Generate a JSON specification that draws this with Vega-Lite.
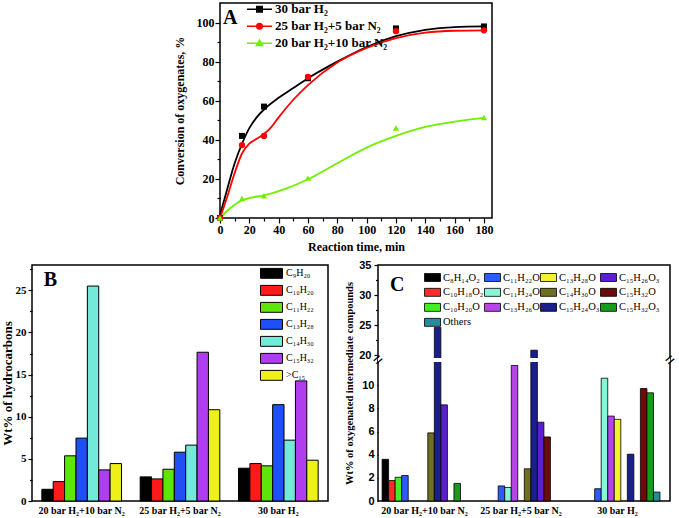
{
  "$schema": "https://vega.github.io/schema/vega-lite/v6.json",
  "padding": {"left": 0, "top": 0, "right": 0, "bottom": 0},
  "background": "white",
  "config": {
    "view": {"stroke": "black", "strokeWidth": 1.5},
    "axis": {"domain": false, "grid": false, "tickColor": "black", "tickWidth": 1.2, "labelColor": "black", "titleColor": "black", "labelFont": "Liberation Serif", "labelFontWeight": "bold", "titleFont": "Liberation Serif", "titleFontWeight": "bold", "labelFontSize": 12, "titleFontSize": 12, "labelOverlap": false, "labelFlush": false},
    "legend": {"labelColor": "black", "labelFont": "Liberation Serif"}
  },
  "spacing": 5,
  "resolve": {"scale": {"color": "independent", "shape": "independent", "xOffset": "independent"}, "legend": {"color": "independent", "shape": "independent"}},
  "vconcat": [
    {
      "spacing": 0,
      "resolve": {"scale": {"color": "independent", "shape": "independent", "xOffset": "independent"}, "legend": {"color": "independent", "shape": "independent"}},
      "hconcat": [
        {"width": 140, "height": 10, "data": {"values": []}, "mark": "point", "view": {"stroke": null}},
        {
          "width": 272,
          "height": 215,
          "layer": [
            {
              "data": {"values": [
                {"s": "30 bar H₂", "t": 0, "v": 1.5}, {"s": "30 bar H₂", "t": 5, "v": 15}, {"s": "30 bar H₂", "t": 10, "v": 28}, {"s": "30 bar H₂", "t": 15, "v": 38}, {"s": "30 bar H₂", "t": 20, "v": 46}, {"s": "30 bar H₂", "t": 25, "v": 51.5}, {"s": "30 bar H₂", "t": 30, "v": 55.5}, {"s": "30 bar H₂", "t": 40, "v": 61.5}, {"s": "30 bar H₂", "t": 50, "v": 66.5}, {"s": "30 bar H₂", "t": 60, "v": 71.5}, {"s": "30 bar H₂", "t": 80, "v": 80}, {"s": "30 bar H₂", "t": 100, "v": 87.5}, {"s": "30 bar H₂", "t": 120, "v": 93}, {"s": "30 bar H₂", "t": 140, "v": 96.3}, {"s": "30 bar H₂", "t": 160, "v": 97.7}, {"s": "30 bar H₂", "t": 180, "v": 98},
                {"s": "25 bar H₂+5 bar N₂", "t": 0, "v": 0}, {"s": "25 bar H₂+5 bar N₂", "t": 5, "v": 11}, {"s": "25 bar H₂+5 bar N₂", "t": 10, "v": 23}, {"s": "25 bar H₂+5 bar N₂", "t": 15, "v": 33}, {"s": "25 bar H₂+5 bar N₂", "t": 20, "v": 38}, {"s": "25 bar H₂+5 bar N₂", "t": 25, "v": 40.5}, {"s": "25 bar H₂+5 bar N₂", "t": 30, "v": 43}, {"s": "25 bar H₂+5 bar N₂", "t": 35, "v": 46.5}, {"s": "25 bar H₂+5 bar N₂", "t": 40, "v": 51.5}, {"s": "25 bar H₂+5 bar N₂", "t": 50, "v": 60.5}, {"s": "25 bar H₂+5 bar N₂", "t": 60, "v": 68}, {"s": "25 bar H₂+5 bar N₂", "t": 80, "v": 79.5}, {"s": "25 bar H₂+5 bar N₂", "t": 100, "v": 87}, {"s": "25 bar H₂+5 bar N₂", "t": 120, "v": 92}, {"s": "25 bar H₂+5 bar N₂", "t": 140, "v": 94.8}, {"s": "25 bar H₂+5 bar N₂", "t": 160, "v": 95.8}, {"s": "25 bar H₂+5 bar N₂", "t": 180, "v": 96},
                {"s": "20 bar H₂+10 bar N₂", "t": 0, "v": 0}, {"s": "20 bar H₂+10 bar N₂", "t": 5, "v": 3.7}, {"s": "20 bar H₂+10 bar N₂", "t": 10, "v": 6.8}, {"s": "20 bar H₂+10 bar N₂", "t": 15, "v": 9}, {"s": "20 bar H₂+10 bar N₂", "t": 20, "v": 10.2}, {"s": "20 bar H₂+10 bar N₂", "t": 30, "v": 11.6}, {"s": "20 bar H₂+10 bar N₂", "t": 45, "v": 15}, {"s": "20 bar H₂+10 bar N₂", "t": 60, "v": 19.8}, {"s": "20 bar H₂+10 bar N₂", "t": 80, "v": 28}, {"s": "20 bar H₂+10 bar N₂", "t": 100, "v": 36}, {"s": "20 bar H₂+10 bar N₂", "t": 120, "v": 42}, {"s": "20 bar H₂+10 bar N₂", "t": 140, "v": 46.6}, {"s": "20 bar H₂+10 bar N₂", "t": 160, "v": 49.3}, {"s": "20 bar H₂+10 bar N₂", "t": 180, "v": 51.2}
              ]},
              "mark": {"type": "line", "strokeWidth": 1.8, "interpolate": "monotone"},
              "encoding": {
                "x": {"field": "t", "type": "quantitative", "scale": {"domain": [0, 185.5], "nice": false, "zero": false},
                      "axis": {"title": "Reaction time, min", "values": [0,10,20,30,40,50,60,70,80,90,100,110,120,130,140,150,160,170,180], "tickCount": 100, "format": "d", "labelExpr": "datum.value % 20 === 0 ? datum.label : ''", "labelOverlap": false, "tickSize": {"condition": {"test": "datum.value % 20 === 0", "value": 5}, "value": 3}, "labelPadding": 1, "titlePadding": 6}},
                "y": {"field": "v", "type": "quantitative", "scale": {"domain": [0, 110], "nice": false},
                      "axis": {"title": "Conversion of oxygenates, %", "values": [0,10,20,30,40,50,60,70,80,90,100], "tickCount": 100, "format": "d", "labelExpr": "datum.value % 20 === 0 ? datum.label : ''", "labelOverlap": false, "tickSize": {"condition": {"test": "datum.value % 20 === 0", "value": 5}, "value": 3}, "labelPadding": 1, "titlePadding": 10}},
                "color": {"field": "s", "type": "nominal",
                          "scale": {"domain": ["30 bar H₂", "25 bar H₂+5 bar N₂", "20 bar H₂+10 bar N₂"], "range": ["#000000", "#ff0000", "#70f000"]},
                          "legend": {"title": null, "orient": "none", "legendX": 26, "legendY": -2, "symbolSize": 625, "clipHeight": 16.5, "rowPadding": 0, "labelOffset": 2, "labelFontSize": 13, "labelFontWeight": "bold", "symbolStrokeWidth": 1.5,
                                     "encode": {"symbols": {"update": {
                                       "shape": {"signal": "datum.index === 0 ? 'M-1,0H1M-0.22,-0.22H0.22V0.22H-0.22Z' : datum.index === 1 ? 'M-1,0H1M0.22,0A0.22,0.22 0 1,1 -0.22,0A0.22,0.22 0 1,1 0.22,0Z' : 'M-1,0H1M0,-0.25L0.25,0.18H-0.25Z'"},
                                       "fill": {"signal": "datum.index === 0 ? '#000000' : datum.index === 1 ? '#ff0000' : '#70f000'"},
                                       "stroke": {"signal": "datum.index === 0 ? '#000000' : datum.index === 1 ? '#ff0000' : '#70f000'"},
                                       "strokeWidth": {"value": 1.5},
                                       "opacity": {"value": 1}
                                     }}}}}
              }
            },
            {
              "data": {"values": [
                {"s": "30 bar H₂", "t": 0, "v": 0}, {"s": "30 bar H₂", "t": 15, "v": 42}, {"s": "30 bar H₂", "t": 30, "v": 57}, {"s": "30 bar H₂", "t": 60, "v": 71.5}, {"s": "30 bar H₂", "t": 120, "v": 97}, {"s": "30 bar H₂", "t": 180, "v": 98}
              ]},
              "mark": {"type": "point", "filled": true, "size": 36, "opacity": 1, "shape": "square", "color": "#000000"},
              "encoding": {"x": {"field": "t", "type": "quantitative"}, "y": {"field": "v", "type": "quantitative"}}
            },
            {
              "data": {"values": [
                {"s": "25 bar H₂+5 bar N₂", "t": 0, "v": 0}, {"s": "25 bar H₂+5 bar N₂", "t": 15, "v": 37.3}, {"s": "25 bar H₂+5 bar N₂", "t": 30, "v": 42}, {"s": "25 bar H₂+5 bar N₂", "t": 60, "v": 72.2}, {"s": "25 bar H₂+5 bar N₂", "t": 120, "v": 95.6}, {"s": "25 bar H₂+5 bar N₂", "t": 180, "v": 96}
              ]},
              "mark": {"type": "point", "filled": true, "size": 40, "opacity": 1, "shape": "circle", "color": "#ff0000"},
              "encoding": {"x": {"field": "t", "type": "quantitative"}, "y": {"field": "v", "type": "quantitative"}}
            },
            {
              "data": {"values": [
                {"s": "20 bar H₂+10 bar N₂", "t": 0, "v": 0}, {"s": "20 bar H₂+10 bar N₂", "t": 15, "v": 10}, {"s": "20 bar H₂+10 bar N₂", "t": 30, "v": 11.4}, {"s": "20 bar H₂+10 bar N₂", "t": 60, "v": 20.4}, {"s": "20 bar H₂+10 bar N₂", "t": 120, "v": 46.1}, {"s": "20 bar H₂+10 bar N₂", "t": 180, "v": 51.4}
              ]},
              "mark": {"type": "point", "filled": true, "size": 40, "opacity": 1, "shape": "triangle-up", "color": "#70f000"},
              "encoding": {"x": {"field": "t", "type": "quantitative"}, "y": {"field": "v", "type": "quantitative"}}
            },
            {
              "data": {"values": [{}]},
              "mark": {"type": "text", "text": "A", "fontSize": 20, "font": "Liberation Serif", "fontWeight": "bold", "color": "black", "align": "left", "baseline": "alphabetic"},
              "encoding": {"x": {"datum": 2, "type": "quantitative"}, "y": {"datum": 99.5, "type": "quantitative"}}
            }
          ]
        }
      ]
    },
    {
      "spacing": 15,
      "resolve": {"scale": {"color": "independent", "shape": "independent", "xOffset": "independent"}, "legend": {"color": "independent", "shape": "independent"}},
      "hconcat": [
        {
          "width": 296,
          "height": 236,
          "resolve": {"scale": {"x": "independent"}},
          "layer": [
            {
              "data": {"values": [
                {"g": "20 bar H₂+10 bar N₂", "c": "C₉H₂₀", "v": 1.39}, {"g": "20 bar H₂+10 bar N₂", "c": "C₁₀H₂₀", "v": 2.3}, {"g": "20 bar H₂+10 bar N₂", "c": "C₁₁H₂₂", "v": 5.36}, {"g": "20 bar H₂+10 bar N₂", "c": "C₁₃H₂₈", "v": 7.46}, {"g": "20 bar H₂+10 bar N₂", "c": "C₁₄H₃₀", "v": 25.5}, {"g": "20 bar H₂+10 bar N₂", "c": "C₁₅H₃₂", "v": 3.69}, {"g": "20 bar H₂+10 bar N₂", "c": ">C₁₅", "v": 4.44},
                {"g": "25 bar H₂+5 bar N₂", "c": "C₉H₂₀", "v": 2.86}, {"g": "25 bar H₂+5 bar N₂", "c": "C₁₀H₂₀", "v": 2.62}, {"g": "25 bar H₂+5 bar N₂", "c": "C₁₁H₂₂", "v": 3.77}, {"g": "25 bar H₂+5 bar N₂", "c": "C₁₃H₂₈", "v": 5.79}, {"g": "25 bar H₂+5 bar N₂", "c": "C₁₄H₃₀", "v": 6.63}, {"g": "25 bar H₂+5 bar N₂", "c": "C₁₅H₃₂", "v": 17.65}, {"g": "25 bar H₂+5 bar N₂", "c": ">C₁₅", "v": 10.83},
                {"g": "30 bar H₂", "c": "C₉H₂₀", "v": 3.89}, {"g": "30 bar H₂", "c": "C₁₀H₂₀", "v": 4.44}, {"g": "30 bar H₂", "c": "C₁₁H₂₂", "v": 4.17}, {"g": "30 bar H₂", "c": "C₁₃H₂₈", "v": 11.43}, {"g": "30 bar H₂", "c": "C₁₄H₃₀", "v": 7.22}, {"g": "30 bar H₂", "c": "C₁₅H₃₂", "v": 14.25}, {"g": "30 bar H₂", "c": ">C₁₅", "v": 4.84}
              ]},
              "mark": {"type": "bar", "stroke": "black", "strokeWidth": 1},
              "encoding": {
                "x": {"field": "g", "type": "nominal", "scale": {"domain": ["20 bar H₂+10 bar N₂", "25 bar H₂+5 bar N₂", "30 bar H₂"], "paddingInner": 0.19, "paddingOuter": 0.1},
                      "axis": {"title": null, "labelAngle": 0, "ticks": false, "labelPadding": 4, "labelFontSize": 10}},
                "xOffset": {"field": "c", "type": "nominal", "scale": {"domain": ["C₉H₂₀", "C₁₀H₂₀", "C₁₁H₂₂", "C₁₃H₂₈", "C₁₄H₃₀", "C₁₅H₃₂", ">C₁₅"], "paddingInner": 0, "paddingOuter": 0}},
                "y": {"field": "v", "type": "quantitative", "scale": {"domain": [0, 28], "nice": false},
                      "axis": {"title": "Wt% of hydrocarbons", "titleFontSize": 13, "labelFontSize": 11, "values": [0,2.5,5,7.5,10,12.5,15,17.5,20,22.5,25,27.5], "tickCount": 100, "format": "d", "labelExpr": "datum.value % 5 === 0 ? datum.label : ''", "labelOverlap": false, "tickSize": {"condition": {"test": "datum.value % 5 === 0", "value": 4}, "value": 2.5}, "labelPadding": 2, "titlePadding": 1}},
                "color": {"field": "c", "type": "nominal",
                          "scale": {"domain": ["C₉H₂₀", "C₁₀H₂₀", "C₁₁H₂₂", "C₁₃H₂₈", "C₁₄H₃₀", "C₁₅H₃₂", ">C₁₅"], "range": ["#000000", "#ff1a1a", "#5ee60c", "#1f4ff5", "#73ead9", "#b03ef0", "#eef01a"]},
                          "legend": {"title": null, "orient": "none", "legendX": 228, "legendY": 0, "symbolType": "M-1,-0.45H1V0.45H-1Z", "symbolSize": 484, "clipHeight": 16.7, "rowPadding": 0, "labelOffset": 3, "labelFontSize": 10, "symbolStrokeColor": "black", "symbolStrokeWidth": 1, "symbolOpacity": 1}}
              }
            },
            {
              "data": {"values": [{}]},
              "mark": {"type": "text", "text": "B", "fontSize": 20, "font": "Liberation Serif", "fontWeight": "bold", "color": "black", "align": "left", "baseline": "alphabetic"},
              "encoding": {"x": {"datum": 0.04, "type": "quantitative", "scale": {"domain": [0, 1], "nice": false}, "axis": null}, "y": {"datum": 25.5, "type": "quantitative"}}
            }
          ]
        },
        {
          "width": 292,
          "height": 236,
          "resolve": {"scale": {"x": "independent"}},
          "layer": [
            {
              "data": {"values": [
                {"g": "20 bar H₂+10 bar N₂", "c": "C₈H₁₄O₂", "v": 3.6}, {"g": "20 bar H₂+10 bar N₂", "c": "C₁₀H₁₈O₂", "v": 1.77}, {"g": "20 bar H₂+10 bar N₂", "c": "C₁₀H₂₀O", "v": 2.05}, {"g": "20 bar H₂+10 bar N₂", "c": "C₁₁H₂₂O", "v": 2.2}, {"g": "20 bar H₂+10 bar N₂", "c": "C₁₄H₃₀O", "v": 5.88}, {"g": "20 bar H₂+10 bar N₂", "c": "C₁₅H₂₄O₃", "v": 24.6}, {"g": "20 bar H₂+10 bar N₂", "c": "C₁₅H₂₆O₃", "v": 8.3}, {"g": "20 bar H₂+10 bar N₂", "c": "C₁₅H₃₂O₃", "v": 1.52},
                {"g": "25 bar H₂+5 bar N₂", "c": "C₁₁H₂₂O", "v": 1.3}, {"g": "25 bar H₂+5 bar N₂", "c": "C₁₁H₂₄O", "v": 1.17}, {"g": "25 bar H₂+5 bar N₂", "c": "C₁₃H₂₆O", "v": 11.7}, {"g": "25 bar H₂+5 bar N₂", "c": "C₁₄H₃₀O", "v": 2.78}, {"g": "25 bar H₂+5 bar N₂", "c": "C₁₅H₂₄O₃", "v": 20.8}, {"g": "25 bar H₂+5 bar N₂", "c": "C₁₅H₂₆O₃", "v": 6.8}, {"g": "25 bar H₂+5 bar N₂", "c": "C₁₅H₃₂O", "v": 5.53},
                {"g": "30 bar H₂", "c": "C₁₁H₂₂O", "v": 1.06}, {"g": "30 bar H₂", "c": "C₁₁H₂₄O", "v": 10.6}, {"g": "30 bar H₂", "c": "C₁₃H₂₆O", "v": 7.33}, {"g": "30 bar H₂", "c": "C₁₃H₂₈O", "v": 7.05}, {"g": "30 bar H₂", "c": "C₁₅H₂₄O₃", "v": 4.04}, {"g": "30 bar H₂", "c": "C₁₅H₃₂O", "v": 9.71}, {"g": "30 bar H₂", "c": "C₁₅H₃₂O₃", "v": 9.34}, {"g": "30 bar H₂", "c": "Others", "v": 0.77}
              ]},
              "mark": {"type": "bar", "stroke": "black", "strokeWidth": 0.8},
              "encoding": {
                "x": {"field": "g", "type": "nominal", "scale": {"domain": ["20 bar H₂+10 bar N₂", "25 bar H₂+5 bar N₂", "30 bar H₂"], "paddingInner": 0.12, "paddingOuter": 0.073, "align": 0.29},
                      "axis": {"title": null, "labelAngle": 0, "ticks": false, "labelPadding": 4, "labelFontSize": 10}},
                "xOffset": {"field": "c", "type": "nominal", "scale": {"domain": ["C₈H₁₄O₂", "C₁₀H₁₈O₂", "C₁₀H₂₀O", "C₁₁H₂₂O", "C₁₁H₂₄O", "C₁₃H₂₆O", "C₁₃H₂₈O", "C₁₄H₃₀O", "C₁₅H₂₄O₃", "C₁₅H₂₆O₃", "C₁₅H₃₂O", "C₁₅H₃₂O₃", "Others"], "paddingInner": 0, "paddingOuter": 0}},
                "y": {"field": "v", "type": "quantitative", "scale": {"domain": [0, 12, 19.5, 35], "range": [236, 97, 93, 0], "nice": false, "zero": false},
                      "axis": {"title": "Wt% of oxygenated intermediate compounds", "titleFontSize": 10.5, "values": [0,1,2,3,4,5,6,7,8,9,10,11,20,22.5,25,27.5,30,32.5,35], "tickCount": 100, "format": "d", "labelExpr": "(datum.value < 15 ? datum.value % 2 === 0 : datum.value % 5 === 0) ? datum.label : ''", "labelOverlap": false, "tickSize": {"condition": {"test": "datum.value < 15 ? datum.value % 2 === 0 : datum.value % 5 === 0", "value": 4}, "value": 2.5}, "labelFont": "Liberation Sans", "labelFontSize": 11, "labelPadding": 3, "titlePadding": 4}},
                "color": {"field": "c", "type": "nominal",
                          "scale": {"domain": ["C₈H₁₄O₂", "C₁₀H₁₈O₂", "C₁₅H₃₂O", "C₁₅H₂₄O₃", "C₁₁H₂₂O", "C₁₁H₂₄O", "C₁₀H₂₀O", "C₁₅H₃₂O₃", "C₁₃H₂₈O", "C₁₄H₃₀O", "C₁₃H₂₆O", "Others", "C₁₅H₂₆O₃"],
                                    "range": ["#000000", "#ff2a2a", "#6b0b0b", "#1a1f8c", "#2d5bff", "#88f5d8", "#44ee22", "#1a9a1a", "#f2f230", "#6e7020", "#b545e8", "#2a8a9a", "#5c1fd0"]},
                          "legend": {"title": null, "orient": "none", "legendX": 46, "legendY": 5, "columns": 4, "gridAlign": "each", "columnPadding": -6, "symbolType": "M-1,-0.5H1V0.5H-1Z", "symbolSize": 256, "clipHeight": 14.7, "rowPadding": 0, "labelOffset": 2, "labelFontSize": 10.5, "symbolStrokeColor": "black", "symbolStrokeWidth": 0.8, "symbolOpacity": 1}}
              }
            },
            {
              "data": {"values": [{}]},
              "mark": {"type": "rect", "fill": "white"},
              "encoding": {"y": {"datum": 12, "type": "quantitative"}, "y2": {"datum": 19.5}}
            },
            {
              "data": {"values": [{}]},
              "mark": {"type": "text", "text": "C", "fontSize": 20, "font": "Liberation Serif", "fontWeight": "bold", "color": "black", "align": "left", "baseline": "alphabetic"},
              "encoding": {"x": {"datum": 0.041, "type": "quantitative", "scale": {"domain": [0, 1], "nice": false}, "axis": null}, "y": {"datum": 30.6, "type": "quantitative"}}
            },
            {
              "data": {"values": [{}]},
              "mark": {"type": "text", "text": "=", "fontSize": 16, "angle": -40, "font": "Liberation Sans", "color": "black", "baseline": "middle", "align": "center"},
              "encoding": {"x": {"datum": 0, "type": "quantitative", "scale": {"domain": [0, 1], "nice": false}, "axis": null}, "y": {"datum": 15.75, "type": "quantitative"}}
            },
            {
              "data": {"values": [{}]},
              "mark": {"type": "text", "text": "=", "fontSize": 16, "angle": -40, "font": "Liberation Sans", "color": "black", "baseline": "middle", "align": "center"},
              "encoding": {"x": {"datum": 1, "type": "quantitative", "scale": {"domain": [0, 1], "nice": false}, "axis": null}, "y": {"datum": 15.75, "type": "quantitative"}}
            }
          ]
        }
      ]
    }
  ]
}
